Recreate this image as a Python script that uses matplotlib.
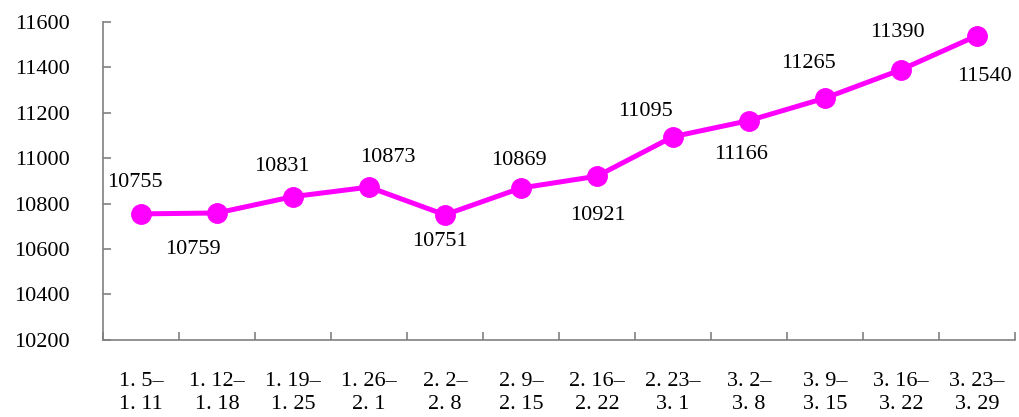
import matplotlib
matplotlib.use("Agg")
import matplotlib.pyplot as plt
from matplotlib.ticker import FixedLocator, NullFormatter

categories = ["1. 5–\n1. 11", "1. 12–\n1. 18", "1. 19–\n1. 25", "1. 26–\n2. 1",
              "2. 2–\n2. 8", "2. 9–\n2. 15", "2. 16–\n2. 22", "2. 23–\n3. 1",
              "3. 2–\n3. 8", "3. 9–\n3. 15", "3. 16–\n3. 22", "3. 23–\n3. 29"]
values = [10755, 10759, 10831, 10873, 10751, 10869, 10921, 11095, 11166, 11265, 11390, 11540]
y_ticks = [10200, 10400, 10600, 10800, 11000, 11200, 11400, 11600]

# label offsets in pixels (layout only)
label_offsets = [(-6, 31), (-24, -37), (-11, 30), (19, 30), (-5, -27), (-2, 28),
                 (1, -39), (-27, 25), (-8, -34), (-16, 35), (-4, 37), (8, -41)]

plt.rcParams['font.family'] = ['Liberation Serif', 'DejaVu Serif']

fig = plt.figure(figsize=(10.19, 4.17), dpi=100)
ax = fig.add_axes([0.101, 0.185, 0.895, 0.762])

x = list(range(len(values)))
ax.plot(x, values, color='#FF00FF', lw=3.6, marker='o', markersize=14,
        markerfacecolor='#FF00FF', markeredgecolor='#FF00FF', zorder=3)

for xi, v, (dx, dy) in zip(x, values, label_offsets):
    ax.annotate(str(v), (xi, v), xytext=(dx, dy), textcoords='offset pixels',
                ha='center', va='center', fontsize=16, color='black')

ax.set_xlim(-0.5, len(values) - 0.5)
ax.set_ylim(10200, 11600)
ax.set_yticks(y_ticks)
ax.set_yticklabels([str(t) for t in y_ticks], fontsize=16)

ax.xaxis.set_major_locator(FixedLocator([i - 0.5 for i in range(len(values) + 1)]))
ax.xaxis.set_major_formatter(NullFormatter())
ax.xaxis.set_minor_locator(FixedLocator(x))
ax.set_xticklabels(categories, minor=True, fontsize=16, linespacing=1.3)

for s in ['top', 'right']:
    ax.spines[s].set_visible(False)
for s in ['left', 'bottom']:
    ax.spines[s].set_color('#808080')
    ax.spines[s].set_linewidth(1.2)

ax.tick_params(axis='x', which='major', direction='in', length=6, color='#808080', width=1.2)
ax.tick_params(axis='x', which='minor', length=0, pad=23)
ax.tick_params(axis='y', direction='in', length=6, color='#808080', width=1.2, pad=24)

fig.savefig('out.png', dpi=100)
